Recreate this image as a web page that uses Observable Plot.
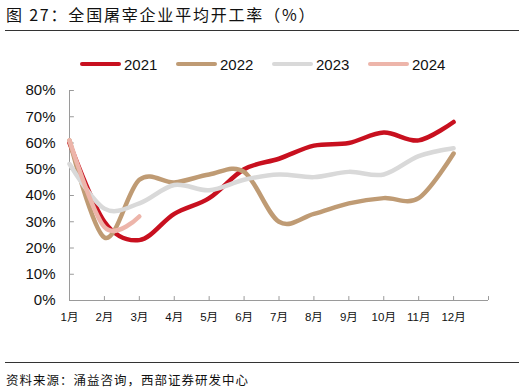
<!DOCTYPE html>
<html><head><meta charset="utf-8">
<script src="https://cdn.jsdelivr.net/npm/d3@7"></script>
<script src="https://cdn.jsdelivr.net/npm/@observablehq/plot@0.6"></script>
<style>
body{margin:0;background:#fff;}
#wrap{position:relative;width:526px;height:392px;overflow:hidden;font-family:"Liberation Sans",Arial,"Noto Sans CJK SC",sans-serif;color:#111;}
#title{position:absolute;left:6px;top:4px;font-size:16px;letter-spacing:1.8px;font-family:"Noto Sans CJK SC","Liberation Sans",sans-serif;line-height:20px;white-space:nowrap;}
.rule{position:absolute;left:5px;width:514px;height:0;border-top:1.5px solid #333;}
#legend{position:absolute;top:54px;left:80px;height:20px;}
.item{position:absolute;top:0;display:flex;align-items:center;height:20px;white-space:nowrap;font-size:15px;}
.sw{width:41px;height:4.5px;border-radius:3px;margin-right:3px;}
#chart{position:absolute;left:0;top:40px;}
#source{position:absolute;left:6px;top:371px;font-size:12.5px;letter-spacing:1px;font-family:"Noto Sans CJK SC","Liberation Sans",sans-serif;line-height:18px;white-space:nowrap;}
</style></head><body>
<div id="wrap">
 <div id="title">图 27：全国屠宰企业平均开工率（%）</div>
 <div class="rule" style="top:30px"></div>
 <div id="legend"></div>
 <div id="chart"></div>
 <div class="rule" style="top:362px"></div>
 <div id="source">资料来源：涌益咨询，西部证券研发中心</div>
</div>
<script>
const months = [1,2,3,4,5,6,7,8,9,10,11,12];
const monthLabels = ["1月","2月","3月","4月","5月","6月","7月","8月","9月","10月","11月","12月"];
const years = ["2021","2022","2023","2024"];
const colors = ["#C8101F","#BF9B74","#D9D9D9","#EDB5AA"];
const v2021 = [60, 30, 23, 33, 39, 50, 54, 59, 60, 64, 61, 68];
const v2022 = [61, 24, 46, 45, 48, 49, 30, 33, 37, 39, 39, 56];
const v2023 = [52, 35, 37, 44, 42, 46, 48, 47, 49, 48, 55, 58];
const v2024 = [61, 28, 32];
const yTicks = [0,10,20,30,40,50,60,70,80];

const series = [v2021, v2022, v2023, v2024];
const data = [];
series.forEach((vals, i) => vals.forEach((v, j) => data.push({year: years[i], month: months[j], value: v})));

const axisColor = "#9a9a9a";
const chart = Plot.plot({
  width: 526, height: 300,
  marginTop: 50, marginBottom: 40, marginLeft: 69, marginRight: 38,
  style: {fontFamily: "'Liberation Sans', Arial, 'Noto Sans CJK SC', sans-serif", background: "transparent", color: "#111"},
  x: {domain: [1, 13]},
  y: {domain: [0, 80]},
  color: {domain: years, range: colors},
  marks: [
    Plot.ruleX([1], {y1: 0, y2: 80, stroke: axisColor, strokeWidth: 1}),
    Plot.ruleY([0], {x1: 1, x2: 13, stroke: axisColor, strokeWidth: 1}),
    Plot.ruleY(yTicks, {x1: 1, x2: 1.14, stroke: axisColor, strokeWidth: 1}),
    Plot.ruleX(d3.range(1, 14), {y1: 0, y2: 1.5, stroke: axisColor, strokeWidth: 1}),
    Plot.axisY({ticks: yTicks, tickSize: 0, tickPadding: 14, tickFormat: d => d + "%", fontSize: 15, label: null}),
    Plot.axisX({ticks: months, tickSize: 0, tickPadding: 12, tickFormat: (d, i) => monthLabels[d - 1], fontSize: 11.5, label: null}),
    Plot.line(data, {x: "month", y: "value", z: "year", stroke: "year", curve: "cardinal", strokeWidth: 4.5, strokeLinecap: "round", strokeLinejoin: "round"})
  ]
});
document.getElementById("chart").appendChild(chart);

const legend = document.getElementById("legend");
years.forEach((y, i) => {
  const it = document.createElement("div");
  it.className = "item";
  it.style.left = (i * 96) + "px";
  it.innerHTML = `<div class="sw" style="background:${colors[i]}"></div><span>${y}</span>`;
  legend.appendChild(it);
});
</script>
</body></html>
